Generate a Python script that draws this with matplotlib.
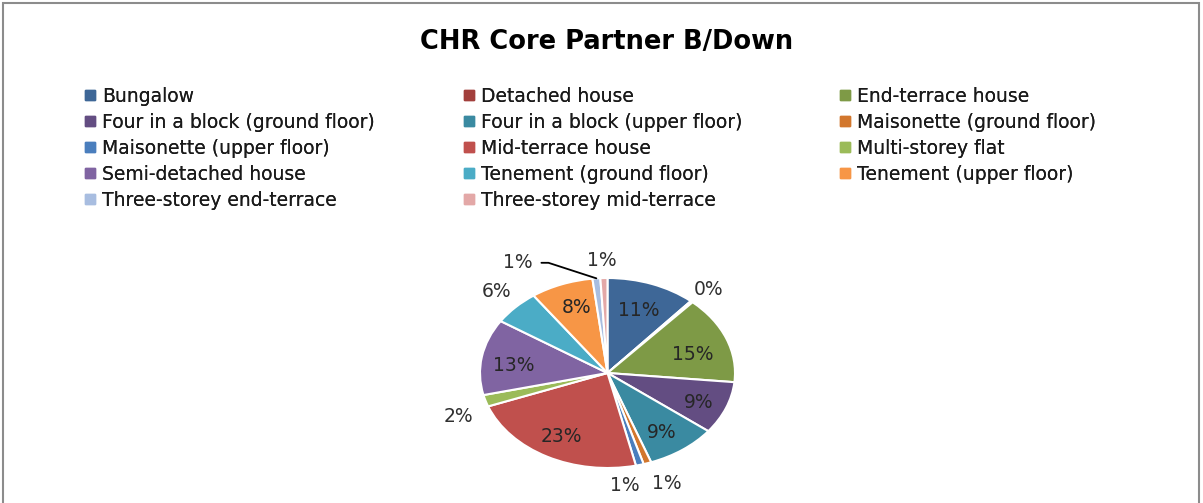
import matplotlib
matplotlib.use("Agg")
import matplotlib.pyplot as plt
import numpy as np
from matplotlib.patches import Rectangle
from matplotlib.lines import Line2D

plt.rcParams['font.family'] = ['DejaVu Sans']

categories = [
    "Bungalow", "Detached house", "End-terrace house",
    "Four in a block (ground floor)", "Four in a block (upper floor)",
    "Maisonette (ground floor)", "Maisonette (upper floor)",
    "Mid-terrace house", "Multi-storey flat", "Semi-detached house",
    "Tenement (ground floor)", "Tenement (upper floor)",
    "Three-storey end-terrace", "Three-storey mid-terrace",
]
values = [11.4, 0.3, 15.0, 9.0, 9.0, 1.0, 1.0, 23.0, 2.0, 13.0, 6.0, 8.0, 1.0, 0.9]
colors = ["#3E6797", "#A23F3C", "#7E9A46", "#634D82", "#3A8AA1", "#D2772D",
          "#4A7EBD", "#C0504D", "#9BBB59", "#8064A2", "#4BACC6", "#F79646",
          "#A8BDE0", "#E3A8A7"]
# label radial distance (fraction of radius) and angular nudge (deg) per slice
label_r = [0.70, 1.18, 0.70, 0.78, 0.76, 1.25, 1.19, 0.76, 1.26, 0.74, 1.22, 0.73, 1.0, 1.19]
label_da = [0, -0.7, -5, -2, -2, 3.7, -8, 0, 4.5, 4, -0.7, -1.5, 0, 0.4]

W, H = 1203, 503
fig = plt.figure(figsize=(W / 100, H / 100), dpi=100)

# outer frame
fig.patches.append(Rectangle((3 / W, -0.1), (1199 - 3) / W, (H - 3) / H + 0.1,
                             transform=fig.transFigure, fill=False,
                             edgecolor="#8c8c8c", linewidth=1.5))

fig.text(607 / W, 1 - 42 / H, "CHR Core Partner B/Down", ha="center", va="center",
         fontsize=18.5, fontweight="bold", color="#000000")

# pie axes (elliptical)
cx, cy, rx, ry = 607.5, 373, 127.5, 95
ax = fig.add_axes([(cx - rx) / W, (H - cy - ry) / H, 2 * rx / W, 2 * ry / H])
wedges, _ = ax.pie(values, colors=colors, startangle=90, counterclock=False,
                   radius=1, wedgeprops=dict(edgecolor="white", linewidth=1.5))
ax.set_aspect("auto")
ax.set_xlim(-1, 1)
ax.set_ylim(-1, 1)
ax.axis("off")

total = sum(values)
for i, (w, v) in enumerate(zip(wedges, values)):
    mid = (w.theta1 + w.theta2) / 2
    txt = f"{v / total * 100:.0f}%"
    if categories[i] == "Three-storey end-terrace":
        a = np.deg2rad(mid)
        ax.annotate(txt, xy=(np.cos(a) * 1.0, np.sin(a) * 1.0), xytext=(-0.70, 1.16),
                    ha="center", va="center", fontsize=13.5, color="#303030",
                    arrowprops=dict(arrowstyle="-", color="black", lw=1.3,
                                    connectionstyle="angle,angleA=0,angleB=162,rad=0",
                                    shrinkA=4, shrinkB=0),
                    annotation_clip=False)
        continue
    a = np.deg2rad(mid + label_da[i])
    r = label_r[i]
    ax.text(r * np.cos(a), r * np.sin(a), txt, ha="center", va="center",
            fontsize=13.5, color="#262626" if r < 1 else "#303030", clip_on=False)

# legend: three columns, row-major order like the source
handles = [Line2D([], [], marker="s", linestyle="", markersize=7.5,
                  markerfacecolor=c, markeredgecolor=c) for c in colors]
col_x = [83, 462, 838]
for ci in range(3):
    idx = list(range(ci, len(categories), 3))
    leg = fig.legend([handles[k] for k in idx], [categories[k] for k in idx],
                     loc="upper left", bbox_to_anchor=(col_x[ci] / W, 1 - 87 / H),
                     frameon=False, fontsize=13.5, handlelength=0.7,
                     handletextpad=0.3, labelspacing=0.37, borderpad=0,
                     borderaxespad=0, labelcolor="#1a1a1a")
    fig.add_artist(leg)

fig.savefig("out.png", dpi=100)
